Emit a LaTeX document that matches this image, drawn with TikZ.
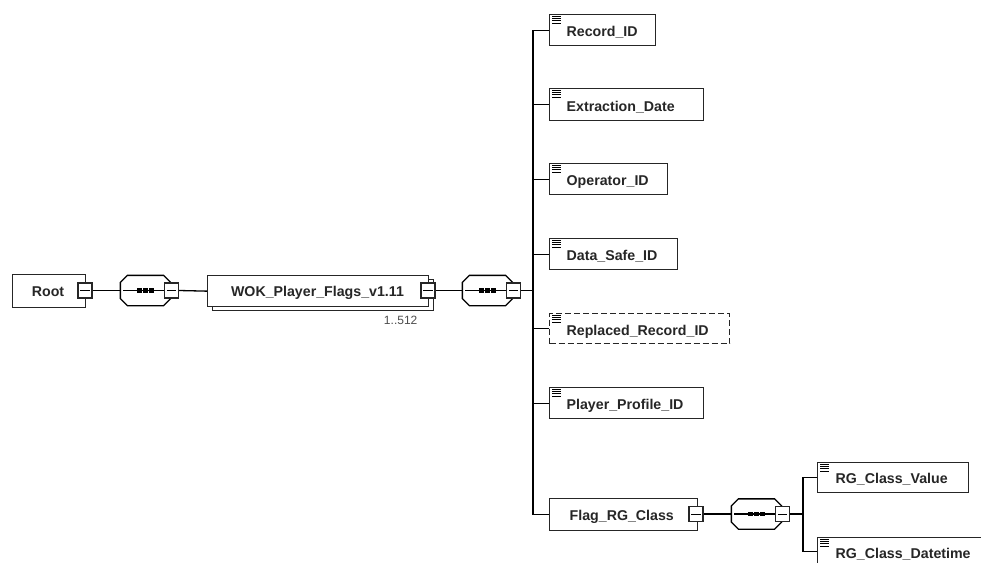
\documentclass[tikz,border=0pt]{standalone}
\usepackage{fontspec}
\setmainfont{Liberation Sans}

% element icon: four short lines in the upper left corner of a box
\newcommand\elicon[1]{%
  \foreach \k in {0,...,3}{%
    \draw[line width=0.7pt] (#1.north west) ++(3,{2+2.3*\k}) -- ++(9,0);}}
% sequence compositor: octagon, inner line and three dots
\newcommand\seqdraw[2]{%
  \draw[fill=white] ([xshift=7pt]#1.north west) -- ([xshift=-7pt]#1.north east)
    -- ([yshift=-7pt]#1.north east) -- ([yshift=7pt]#1.south east)
    -- ([xshift=-7pt]#1.south east) -- ([xshift=7pt]#1.south west)
    -- ([yshift=7pt]#1.south west) -- ([yshift=-7pt]#1.north west) -- cycle;
  \draw ([xshift=3pt]#1.west) -- (#2.west);
  \foreach \d in {-6,0,6}{\fill ([xshift=\d pt]#1.center) +(-2.2,-2.2) rectangle +(2.2,2.2);}}

\begin{document}
\begin{tikzpicture}[x=1pt,y=-1pt,line width=1.3pt,
  box/.style={draw=black!85,fill=white,rectangle,anchor=north west,inner sep=0pt},
  lbl/.style={anchor=base west,inner sep=0pt,text=black!85,
    font=\bfseries\fontsize{14.2}{16}\selectfont},
  tog/.style={draw=black!85,fill=white,rectangle,minimum width=14pt,
    minimum height=15pt,inner sep=0pt,line width=1.1pt},
  seqarea/.style={rectangle,inner sep=0pt,minimum width=49pt,minimum height=29pt},
  card/.style={anchor=base east,inner sep=0pt,text=black!70,
    font=\fontsize{12}{14}\selectfont}]
\useasboundingbox (0,0) rectangle (981,562);
\clip (0,0) rectangle (981,562);

% root element
\node[box,minimum width=73pt,minimum height=33pt] (root) at (12,274) {};
\node[lbl,anchor=base] (root-t) at (48,296) {Root};
\node[tog] (root-m) at (85,290.5) {};
\draw[line width=1pt] ([xshift=3pt]root-m.west) -- ([xshift=-3pt]root-m.east);

% first sequence
\node[seqarea] (s1) at (145.5,290.5) {};
\node[tog] (s1-m) at (171.5,290.5) {};
\seqdraw{s1}{s1-m}
\node[tog] at (s1-m) {};
\draw[line width=1pt] ([xshift=3pt]s1-m.west) -- ([xshift=-3pt]s1-m.east);

% repeated record element
\node[box,minimum width=221pt,minimum height=31pt] (wok-s) at (212,279) {};
\node[box,minimum width=221pt,minimum height=31pt] (wok) at (207,275) {};
\node[lbl,anchor=base] (wok-t) at (317.5,296) {WOK\_Player\_Flags\_v1.11};
\node[tog] (wok-m) at (428,290.5) {};
\draw[line width=1pt] ([xshift=3pt]wok-m.west) -- ([xshift=-3pt]wok-m.east);
\node[card] (wok-c) at (418,324) {1..512};

% second sequence
\node[seqarea] (s2) at (487.5,290.5) {};
\node[tog] (s2-m) at (513.5,290.5) {};
\seqdraw{s2}{s2-m}
\node[tog] at (s2-m) {};
\draw[line width=1pt] ([xshift=3pt]s2-m.west) -- ([xshift=-3pt]s2-m.east);
\coordinate (j1) at (533,290.5);

% child elements
\node[box,minimum width=106pt,minimum height=31pt] (rec) at (549,14) {};
\node[lbl] (rec-t) at (566,36) {Record\_ID};
\elicon{rec}
\node[box,minimum width=154pt,minimum height=32pt] (ext) at (549,88) {};
\node[lbl] (ext-t) at (566,111) {Extraction\_Date};
\elicon{ext}
\node[box,minimum width=118pt,minimum height=31pt] (opr) at (549,163) {};
\node[lbl] (opr-t) at (566,185) {Operator\_ID};
\elicon{opr}
\node[box,minimum width=128pt,minimum height=31pt] (dsi) at (549,238) {};
\node[lbl] (dsi-t) at (566,260) {Data\_Safe\_ID};
\elicon{dsi}
\node[box,dash pattern=on 6pt off 3pt,minimum width=180pt,minimum height=30pt] (rri) at (549,313) {};
\node[lbl] (rri-t) at (566,335) {Replaced\_Record\_ID};
\elicon{rri}
\node[box,minimum width=154pt,minimum height=31pt] (ppi) at (549,387) {};
\node[lbl] (ppi-t) at (566,409) {Player\_Profile\_ID};
\elicon{ppi}
\node[box,minimum width=148pt,minimum height=32pt] (flag) at (549,498) {};
\node[lbl] (flag-t) at (569,520) {Flag\_RG\_Class};
\node[tog] (flag-m) at (696,514) {};
\draw[line width=1pt] ([xshift=3pt]flag-m.west) -- ([xshift=-3pt]flag-m.east);

% third sequence
\node[seqarea] (s3) at (756.5,514) {};
\node[tog] (s3-m) at (782.5,514) {};
\seqdraw{s3}{s3-m}
\node[tog] at (s3-m) {};
\draw[line width=1pt] ([xshift=3pt]s3-m.west) -- ([xshift=-3pt]s3-m.east);
\coordinate (j2) at (803,514);

\node[box,minimum width=151pt,minimum height=30pt] (rgv) at (817,462) {};
\node[lbl] (rgv-t) at (835,483) {RG\_Class\_Value};
\elicon{rgv}
\node[box,minimum width=180pt,minimum height=40pt] (rgd) at (817,537) {};
\node[lbl] (rgd-t) at (835,558) {RG\_Class\_Datetime};
\elicon{rgd}

% connectors
\draw (root-m.east) -- (s1.west);
\draw (s1-m.east) -- (wok.west);
\draw (wok-m.east) -- (s2.west);
\draw (s2-m.east) -- (j1);
\draw (rec.west) -| (j1) |- (flag.west);
\foreach \n in {ext,opr,dsi,rri,ppi}{\draw (\n.west) -- (\n.west -| j1);}
\draw (flag-m.east) -- (s3.west);
\draw (s3-m.east) -- (j2);
\draw (rgv.west) -| (j2) |- ([yshift=6pt]rgd.west);
\end{tikzpicture}
\end{document}
